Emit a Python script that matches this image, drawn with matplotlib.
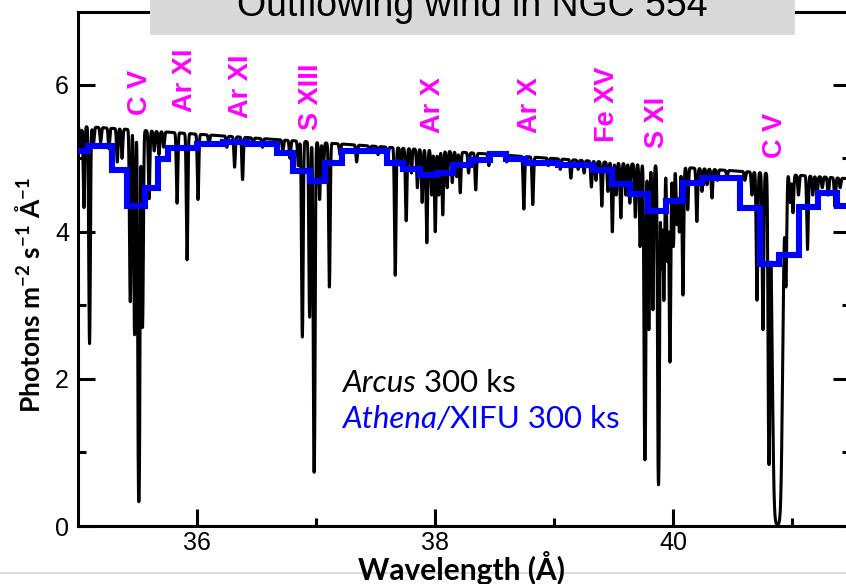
import numpy as np
import matplotlib
matplotlib.use('Agg')
import matplotlib.pyplot as plt
from matplotlib.patches import Rectangle
from matplotlib.lines import Line2D
from matplotlib import font_manager

# ---------------- data ----------------
# Arcus continuum (linear) end points
cont_wave = [35.0, 41.5]
cont_flux = [5.44, 4.72]

# absorption lines: centre (A), minimum flux, sigma (A)
line_wave = [35.020, 35.050, 35.097, 35.130, 35.190, 35.260, 35.330, 35.370,
             35.439, 35.475, 35.511, 35.542, 35.597, 35.640, 35.680, 35.720,
             35.832, 35.916, 36.008, 36.100, 36.250, 36.315, 36.382, 36.470,
             36.550, 36.720, 36.780, 36.850, 36.884, 36.945, 36.983, 37.029,
             37.060, 37.111, 37.200, 37.340, 37.450, 37.520, 37.600, 37.664,
             37.710, 37.756, 37.800, 37.850, 37.890, 37.929, 37.970, 38.000,
             38.030, 38.063, 38.100, 38.143, 38.180, 38.210, 38.280, 38.340,
             38.450, 38.600, 38.744, 38.819, 38.950, 39.050, 39.139, 39.200,
             39.250, 39.311, 39.350, 39.399, 39.450, 39.487, 39.520, 39.559,
             39.600, 39.634, 39.680, 39.720, 39.761, 39.794, 39.828, 39.875,
             39.900, 39.920, 39.950, 39.971, 40.000, 40.030, 40.050, 40.080,
             40.120, 40.197, 40.240, 40.282, 40.324, 40.370, 40.450, 40.600,
             40.660, 40.702, 40.752, 40.803, 40.874, 40.945, 40.980, 41.004,
             41.050, 41.126, 41.170, 41.206, 41.250, 41.300, 41.357, 41.400]
line_min = [5.10, 4.33, 2.48, 5.20, 5.22, 5.13, 4.95, 5.00,
            3.05, 2.60, 0.33, 2.70, 4.45, 5.10, 5.05, 5.15,
            4.39, 3.62, 4.44, 5.20, 5.15, 4.88, 4.71, 5.20,
            5.15, 5.10, 5.00, 4.90, 2.57, 2.84, 0.73, 4.44,
            4.80, 3.25, 5.05, 4.95, 5.08, 5.05, 5.00, 3.41,
            4.90, 4.15, 4.80, 4.60, 4.40, 3.85, 4.50, 4.00,
            4.50, 4.23, 4.60, 4.67, 4.75, 4.53, 4.80, 4.57,
            4.90, 4.95, 4.31, 4.37, 4.90, 4.85, 4.73, 4.85,
            4.80, 4.61, 4.70, 4.35, 4.55, 4.00, 4.50, 4.19,
            4.50, 4.39, 4.20, 3.80, 0.90, 2.67, 2.94, 0.56,
            3.50, 3.07, 3.60, 2.23, 3.80, 4.10, 4.00, 3.14,
            4.30, 4.14, 4.55, 4.64, 4.46, 4.70, 4.75, 4.70,
            4.50, 3.07, 2.67, 0.86, 0.02, 3.35, 4.40, 4.26,
            4.50, 3.76, 4.50, 4.48, 4.60, 4.50, 4.34, 4.60]
line_sigma = [0.006] * len(line_wave)
line_sigma[line_wave.index(40.874)] = 0.022

# Athena/XIFU binned spectrum (bin edges in A, flux per bin)
xifu_edges = [35.000, 35.080, 35.282, 35.408, 35.559, 35.668, 35.752, 35.996,
              36.214, 36.416, 36.668, 36.803, 36.945, 37.071, 37.214, 37.592,
              37.727, 37.870, 38.013, 38.147, 38.290, 38.458, 38.592, 38.761,
              39.029, 39.324, 39.483, 39.634, 39.786, 39.937, 40.080, 40.239,
              40.559, 40.727, 40.887, 41.055, 41.214, 41.374, 41.500]
xifu_flux = [5.10, 5.17, 4.84, 4.35, 4.59, 4.99, 5.14, 5.20,
             5.22, 5.19, 5.07, 4.83, 4.69, 4.94, 5.10, 4.94,
             4.86, 4.78, 4.80, 4.91, 4.98, 5.06, 4.99, 4.93,
             4.91, 4.84, 4.65, 4.52, 4.29, 4.42, 4.67, 4.73,
             4.33, 3.56, 3.69, 4.34, 4.53, 4.35]

ion_labels = ['C V', 'Ar XI', 'Ar XI', 'S XIII', 'Ar X', 'Ar X', 'Fe XV', 'S XI', 'C V']
ion_wave = [35.517, 35.895, 36.366, 36.954, 37.979, 38.794, 39.441, 39.861, 40.853]
ion_ypos = [5.59, 5.63, 5.55, 5.39, 5.35, 5.35, 5.22, 5.14, 5.01]

x_major = [36, 38, 40]
y_major = [0, 2, 4, 6]

# ---------------- build Arcus model spectrum ----------------
wave = np.arange(35.0, 41.5, 0.001)
cont = np.interp(wave, cont_wave, cont_flux)
tau = np.zeros_like(wave)
for c, m, s in zip(line_wave, line_min, line_sigma):
    c0 = np.interp(c, cont_wave, cont_flux)
    t = np.log(c0 / max(m, 0.005))
    tau += t * np.exp(-0.5 * ((wave - c) / s) ** 2)
flux = cont * np.exp(-tau)

# ---------------- fonts ----------------
avail = {f.name for f in font_manager.fontManager.ttflist}
narrow = 'Liberation Sans Narrow' if 'Liberation Sans Narrow' in avail else 'Liberation Sans'
plt.rcParams['font.family'] = ['Lato', 'DejaVu Sans']
plt.rcParams['mathtext.fontset'] = 'custom'
plt.rcParams['mathtext.rm'] = 'Lato'
plt.rcParams['mathtext.it'] = 'Lato:italic'
plt.rcParams['mathtext.bf'] = 'Lato:bold'

W, H = 846, 584
fig = plt.figure(figsize=(W / 100, H / 100), dpi=100)
ax = fig.add_axes([78 / W, 58 / H, 772 / W, 514 / H])

ax.plot(wave, flux, color='black', lw=2.2, zorder=2)
ax.stairs(xifu_flux, xifu_edges, baseline=None, color='#0000ff', lw=4.4, zorder=3)

ax.set_xlim(35.0, 41.483)
ax.set_ylim(0, 6.99)
ax.set_xticks(x_major)
ax.set_xticks([37, 39, 41], minor=True)
ax.set_yticks(y_major)
ax.set_yticks([1, 3, 5], minor=True)
for sp in ax.spines.values():
    sp.set_linewidth(2.2)
ax.tick_params(which='both', direction='in', top=True, right=True, width=2.2)
ax.tick_params(which='major', length=12, labelsize=18)
ax.tick_params(which='minor', length=6)
ax.tick_params(axis='y', pad=6.5)
ax.tick_params(axis='x', pad=3.5)
for lab in ax.get_xticklabels() + ax.get_yticklabels():
    lab.set_fontfamily(narrow)

# ion labels
for lab, xw, yp in zip(ion_labels, ion_wave, ion_ypos):
    ax.text(xw, yp, lab, rotation=90, ha='center', va='bottom', color='#ff00ff',
            fontsize=19.5, fontweight='bold', family=narrow)

# legend texts
lx = 35.0 + (342 - 78) / 119.0
t1 = ax.text(lx, (526 - 392) / 73.5, 'Arcus',
             style='italic', fontsize=22.5, color='black', va='baseline', ha='left')
ax.annotate(' 300 ks', xy=(1, 0), xycoords=t1, va='bottom', ha='left',
            fontsize=22.5, color='black')
t2 = ax.text(lx, (526 - 428) / 73.5, 'Athena/',
             style='italic', fontsize=22.5, color='#0000ff', va='baseline', ha='left')
ax.annotate('XIFU 300 ks', xy=(1, 0), xycoords=t2, va='bottom', ha='left',
            fontsize=22.5, color='#0000ff')

# faint slide edge line at the bottom
fig.add_artist(Line2D([0, 1], [1 - 573 / H, 1 - 573 / H], transform=fig.transFigure,
                      color='#d4d4d4', lw=1.2, zorder=0))

# axis labels
fig.text(461 / W, 1 - 580 / H, 'Wavelength (Å)', ha='center', va='baseline',
         fontsize=21.5, fontweight='bold')
fig.text(29 / W, 1 - 295 / H,
         r'Photons m$^{\mathbf{-2}}$ s$^{\mathbf{-1}}$ Å$^{\mathbf{-1}}$',
         rotation=90, ha='center', va='center', fontsize=19, fontweight='bold')

# title box (cut off at top)
fig.add_artist(Rectangle((150 / W, 1 - 35 / H), 645 / W, 35 / H, transform=fig.transFigure,
                         facecolor='#d9d9d9', edgecolor='none', zorder=5))
fig.text(472 / W, 1 - 16 / H, 'Outflowing wind in NGC 554', ha='center', va='baseline',
         fontsize=27, family=narrow, color='black', zorder=6)

fig.savefig('out.png', dpi=100)
